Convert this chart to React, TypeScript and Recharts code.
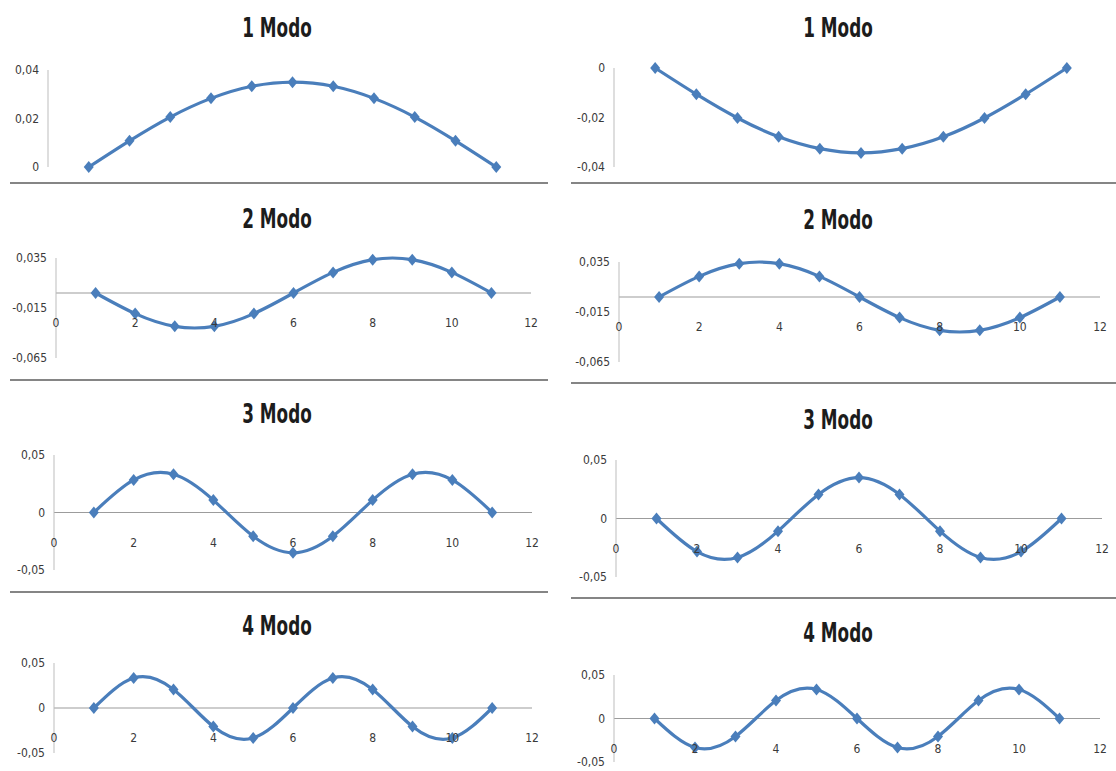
import { Line, LineChart, ReferenceLine, XAxis, YAxis } from "recharts";

const nodes = [1, 2, 3, 4, 5, 6, 7, 8, 9, 10, 11];
const xTicks = [0, 2, 4, 6, 8, 10, 12];

const modo1A = [0, 0.0108, 0.0206, 0.0283, 0.0333, 0.035, 0.0333, 0.0283, 0.0206, 0.0108, 0];
const modo1B = [0, -0.0106, -0.0202, -0.0278, -0.0326, -0.0343, -0.0326, -0.0278, -0.0202, -0.0106, 0];
const modo2A = [0, -0.0206, -0.0333, -0.0333, -0.0206, 0, 0.0206, 0.0333, 0.0333, 0.0206, 0];
const modo2B = [0, 0.0206, 0.0333, 0.0333, 0.0206, 0, -0.0206, -0.0333, -0.0333, -0.0206, 0];
const modo3A = [0, 0.0283, 0.0333, 0.0108, -0.0206, -0.035, -0.0206, 0.0108, 0.0333, 0.0283, 0];
const modo3B = [0, -0.0283, -0.0333, -0.0108, 0.0206, 0.035, 0.0206, -0.0108, -0.0333, -0.0283, 0];
const modo4A = [0, 0.0333, 0.0206, -0.0206, -0.0333, 0, 0.0333, 0.0206, -0.0206, -0.0333, 0];
const modo4B = [0, -0.0333, -0.0206, 0.0206, 0.0333, 0, -0.0333, -0.0206, 0.0206, 0.0333, 0];

const ticksModo1A = [0, 0.02, 0.04];
const ticksModo1B = [-0.04, -0.02, 0];
const ticksModo2 = [-0.065, -0.015, 0.035];
const ticksModo34 = [-0.05, 0, 0.05];

const titles = ["1 Modo", "2 Modo", "3 Modo", "4 Modo"];

const LINE_COLOR = "#4a7ebb";
const AXIS_COLOR = "#bdbdbd";
const ZERO_COLOR = "#9c9c9c";
const TEXT_COLOR = "#3a3a3a";
const FONT = "'Liberation Sans Narrow', 'DejaVu Sans Condensed', 'Liberation Sans', sans-serif";

const Y_W = 50;
const M_T = 8;
const M_R = 8;
const M_B = 10;
const X_H = 30;

type Box = { x0: number; x12: number; yTop: number; yBot: number };

type Panel = {
  title: string;
  values: number[];
  ticks: number[];
  showX: boolean;
  box: Box;
  titleX: number;
  titleY: number;
};

const panels: Panel[] = [
  { title: titles[0], values: modo1A, ticks: ticksModo1A, showX: false, box: { x0: 48, x12: 537, yTop: 70, yBot: 167 }, titleX: 277, titleY: 28 },
  { title: titles[1], values: modo2A, ticks: ticksModo2, showX: true, box: { x0: 56, x12: 531, yTop: 258, yBot: 358 }, titleX: 277, titleY: 219 },
  { title: titles[2], values: modo3A, ticks: ticksModo34, showX: true, box: { x0: 54, x12: 532, yTop: 455, yBot: 570 }, titleX: 277, titleY: 414 },
  { title: titles[3], values: modo4A, ticks: ticksModo34, showX: true, box: { x0: 54, x12: 532, yTop: 663, yBot: 753 }, titleX: 277, titleY: 626 },
  { title: titles[0], values: modo1B, ticks: ticksModo1B, showX: false, box: { x0: 614, x12: 1108, yTop: 68, yBot: 167 }, titleX: 838, titleY: 28 },
  { title: titles[1], values: modo2B, ticks: ticksModo2, showX: true, box: { x0: 619, x12: 1100, yTop: 262, yBot: 362 }, titleX: 838, titleY: 220 },
  { title: titles[2], values: modo3B, ticks: ticksModo34, showX: true, box: { x0: 616, x12: 1102, yTop: 460, yBot: 577 }, titleX: 838, titleY: 420 },
  { title: titles[3], values: modo4B, ticks: ticksModo34, showX: true, box: { x0: 614, x12: 1100, yTop: 675, yBot: 762 }, titleX: 838, titleY: 633 },
];

const separators = [
  { x: 10, w: 538, y: 183 },
  { x: 10, w: 538, y: 380 },
  { x: 10, w: 538, y: 592 },
  { x: 571, w: 545, y: 183 },
  { x: 571, w: 545, y: 383 },
  { x: 571, w: 545, y: 598 },
];

function formatNumber(value: number) {
  return String(value).replace(".", ",");
}

function Diamond(props: any) {
  const { cx, cy, index } = props;
  if (cx == null || cy == null) {
    return null;
  }
  return (
    <path
      key={`d-${index}`}
      d={`M${cx},${cy - 6}L${cx + 5},${cy}L${cx},${cy + 6}L${cx - 5},${cy}Z`}
      fill={LINE_COLOR}
    />
  );
}

function ModeChart({ panel }: { panel: Panel }) {
  const { box, ticks, values, showX } = panel;
  const min = ticks[0];
  const max = ticks[ticks.length - 1];
  const plotW = box.x12 - box.x0;
  const plotH = box.yBot - box.yTop;
  const xH = showX ? X_H : 0;
  const width = Y_W + plotW + M_R;
  const height = M_T + plotH + xH + M_B;
  const zeroY = M_T + (max / (max - min)) * plotH;
  const data = nodes.map((x, i) => ({ x, y: values[i] }));

  return (
    <div style={{ position: "absolute", left: box.x0 - Y_W, top: box.yTop - M_T }}>
      <LineChart width={width} height={height} data={data} margin={{ top: M_T, right: M_R, left: 0, bottom: M_B }}>
        <XAxis
          type="number"
          dataKey="x"
          domain={[0, 12]}
          ticks={xTicks}
          interval={0}
          hide={!showX}
          height={xH}
          axisLine={false}
          tickLine={false}
          tick={(props: any) => (
            <text
              x={props.x}
              y={zeroY + 30}
              textAnchor="middle"
              dominantBaseline="central"
              fill={TEXT_COLOR}
              fontSize={12}
              fontFamily={FONT}
            >
              {formatNumber(props.payload.value)}
            </text>
          )}
        />
        <YAxis
          type="number"
          domain={[min, max]}
          ticks={ticks}
          interval={0}
          width={Y_W}
          axisLine={{ stroke: AXIS_COLOR }}
          tickLine={false}
          tickSize={6}
          tickMargin={3}
          tickFormatter={formatNumber}
          tick={{ fill: TEXT_COLOR, fontSize: 12, fontFamily: FONT }}
        />
        {showX && <ReferenceLine y={0} stroke={ZERO_COLOR} strokeWidth={1.2} />}
        <Line
          type="natural"
          dataKey="y"
          stroke={LINE_COLOR}
          strokeWidth={3.2}
          dot={Diamond}
          activeDot={false}
          isAnimationActive={false}
        />
      </LineChart>
    </div>
  );
}

export default function App() {
  return (
    <div
      style={{
        position: "absolute",
        left: 0,
        top: 0,
        width: 1116,
        height: 771,
        background: "#ffffff",
        overflow: "hidden",
      }}
    >
      {separators.map((s, i) => (
        <div
          key={`s-${i}`}
          style={{ position: "absolute", left: s.x, top: s.y - 1, width: s.w, height: 2, background: "#858585" }}
        />
      ))}
      {panels.map((panel, i) => (
        <div key={`p-${i}`}>
          <div
            style={{
              position: "absolute",
              left: panel.titleX - 100,
              top: panel.titleY - 16,
              width: 200,
              lineHeight: "32px",
              textAlign: "center",
              fontFamily: FONT,
              fontWeight: 700,
              fontSize: 26,
              color: "#1c1c1c",
              transform: "scaleX(0.72)",
            }}
          >
            {panel.title}
          </div>
          <ModeChart panel={panel} />
        </div>
      ))}
    </div>
  );
}
